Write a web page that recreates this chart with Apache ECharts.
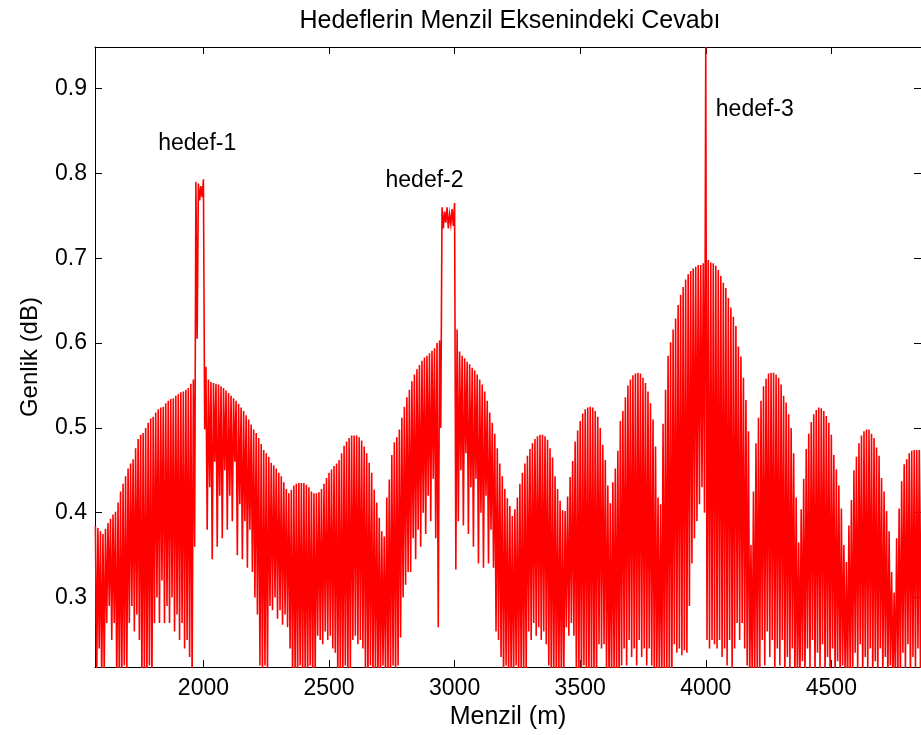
<!DOCTYPE html>
<html>
<head>
<meta charset="utf-8">
<script src="https://cdn.jsdelivr.net/npm/echarts@6/dist/echarts.min.js"></script>
<style>
  html, body { margin: 0; padding: 0; background: #ffffff; }
  #chart { width: 921px; height: 735px; }
</style>
</head>
<body>
<div id="chart"></div>
<script>
// Range profile of the three targets: every 10 m one local peak and one local trough
// of the matched-filter output, amplitudes in thousandths.
const peakStartM = 1570;
const troughStartM = 1575;
const stepM = 10;

const peaks = [
  384,382,378,375,381,388,393,398,401,412,
  425,434,443,452,458,463,476,487,492,494,
  500,506,511,513,518,522,524,525,529,532,
  534,535,538,540,542,543,545,547,552,557,
  790,788,785,793,572,557,554,553,552,551,
  549,547,544,541,538,535,532,528,524,520,
  515,510,504,498,494,488,481,474,470,466,
  459,456,452,447,443,436,428,423,427,432,
  434,435,435,435,433,430,425,423,423,424,
  428,434,441,447,451,455,458,462,470,479,
  484,488,491,491,491,489,485,478,470,459,
  447,427,412,394,378,372,418,439,468,483,
  489,498,512,525,536,545,555,563,569,574,
  579,583,585,588,591,594,600,603,760,755,
  760,752,758,765,616,590,585,582,578,575,
  571,568,563,557,551,543,532,518,506,493,
  476,458,443,428,417,408,396,404,418,434,
  447,458,467,475,482,487,490,492,492,490,
  486,476,465,443,428,414,403,402,419,442,
  461,484,497,508,517,522,524,525,524,520,
  513,500,480,462,432,411,436,452,473,508,
  520,536,550,557,562,564,565,564,559,553,
  543,529,510,478,418,410,505,545,585,601,
  616,629,645,657,666,675,681,685,688,690,
  692,692,694,949,698,695,694,691,686,679,
  671,665,653,642,631,620,596,584,559,533,
  496,362,425,482,512,532,549,558,564,565,
  565,563,559,551,538,530,516,500,470,418,
  365,404,440,475,493,507,516,521,524,523,
  520,514,506,492,468,451,432,405,362,342,
  385,415,450,466,482,491,496,498,498,493,
  488,477,467,441,425,402,378,330,306,370,
  405,437,457,463,470,473,474,474,474,474
];

const troughs = [
  200,240,200,210,270,290,250,270,200,210,
  200,220,210,270,290,260,280,250,200,210,
  200,220,200,270,300,270,320,270,290,270,
  300,260,280,250,270,240,250,230,200,360,
  605,768,772,498,380,430,345,460,360,420,
  370,450,380,420,390,460,350,410,345,390,
  335,380,330,300,280,220,200,220,210,290,
  285,300,275,285,268,280,265,240,200,210,
  200,220,200,210,200,220,200,210,255,250,
  245,260,250,255,240,235,200,210,200,220,
  200,210,250,255,245,250,240,210,200,220,
  200,210,200,200,220,200,210,200,220,200,
  220,253,300,315,330,330,370,345,380,360,
  400,375,420,390,440,370,265,500,735,742,
  735,740,738,333,390,450,385,470,375,430,
  360,440,340,400,335,420,340,380,335,260,
  250,230,200,220,200,210,200,220,200,210,
  200,210,260,250,270,255,265,250,260,245,
  220,200,210,200,200,200,210,265,255,270,
  255,200,210,200,220,200,200,210,200,200,
  245,240,245,210,200,200,210,200,200,220,
  240,220,250,230,240,220,250,230,240,220,
  240,220,200,200,210,200,200,210,200,200,
  245,235,240,232,238,235,290,340,370,390,
  410,430,400,250,240,250,245,240,250,230,
  240,220,250,210,240,270,250,270,240,220,
  200,200,200,210,200,250,220,260,230,250,
  210,240,220,250,200,230,215,240,200,200,
  200,225,200,240,215,250,200,235,210,245,
  200,230,205,240,200,225,200,220,200,200,
  215,200,235,210,245,200,230,215,240,200,
  225,200,240,205,230,200,220,200,200,210,
  200,235,210,245,200,230,215,240,200,225
];

const xTicks = [2000, 2500, 3000, 3500, 4000, 4500];
const yTicks = [0.3, 0.4, 0.5, 0.6, 0.7, 0.8, 0.9];

const targetNames = ['hedef-1', 'hedef-2', 'hedef-3'];
const targetRangeM = [1820, 2725, 4040];
const targetLevel = [0.835, 0.792, 0.875];

// Interleave peaks and troughs into one polyline
const profile = [];
for (let i = 0; i < peaks.length; i++) {
  profile.push([peakStartM + i * stepM, peaks[i] / 1000]);
  profile.push([troughStartM + i * stepM, troughs[i] / 1000]);
}

const labelData = targetNames.map((n, i) => ({ name: n, value: [targetRangeM[i], targetLevel[i]] }));

const FONT = 'Liberation Sans, Arial, Helvetica, sans-serif';
const X_MIN = 1568.3, X_MAX = 4857;
const Y_MIN = 0.218, Y_MAX = 0.949;

const chart = echarts.init(document.getElementById('chart'), null, { renderer: 'canvas' });
chart.setOption({
  animation: false,
  backgroundColor: '#ffffff',
  title: {
    text: 'Hedeflerin Menzil Eksenindeki Cevabı',
    left: 505,
    top: 4,
    textAlign: 'center',
    textStyle: { fontFamily: FONT, fontSize: 25, fontWeight: 'normal', color: '#000' }
  },
  grid: { left: 95, top: 47, right: -2, height: 621, containLabel: false },
  xAxis: [
    {
      type: 'value', position: 'bottom', min: X_MIN, max: X_MAX,
      name: 'Menzil (m)', nameLocation: 'middle', nameGap: 33,
      nameTextStyle: { fontFamily: FONT, fontSize: 25, color: '#000' },
      axisLine: { show: true, onZero: false, lineStyle: { color: '#000', width: 1 } },
      axisTick: { show: true, inside: true, length: 7, customValues: xTicks, lineStyle: { color: '#000' } },
      axisLabel: {
        show: true, customValues: xTicks, margin: 10, fontFamily: FONT, fontSize: 23, color: '#000',
        formatter: v => String(Math.round(v))
      },
      splitLine: { show: false }
    },
    {
      type: 'value', position: 'top', min: X_MIN, max: X_MAX,
      axisLine: { show: true, onZero: false, lineStyle: { color: '#000', width: 1 } },
      axisTick: { show: true, inside: true, length: 7, customValues: xTicks, lineStyle: { color: '#000' } },
      axisLabel: { show: false },
      splitLine: { show: false }
    }
  ],
  yAxis: [
    {
      type: 'value', position: 'left', min: Y_MIN, max: Y_MAX,
      name: 'Genlik (dB)', nameLocation: 'middle', nameGap: 53, nameRotate: 90,
      nameTextStyle: { fontFamily: FONT, fontSize: 24, color: '#000' },
      axisLine: { show: true, onZero: false, lineStyle: { color: '#000', width: 1 } },
      axisTick: { show: true, inside: true, length: 7, customValues: yTicks, lineStyle: { color: '#000' } },
      axisLabel: {
        show: true, customValues: yTicks, margin: 8, fontFamily: FONT, fontSize: 23, color: '#000',
        formatter: v => v.toFixed(1)
      },
      splitLine: { show: false }
    },
    {
      type: 'value', position: 'right', min: Y_MIN, max: Y_MAX,
      axisLine: { show: true, onZero: false, lineStyle: { color: '#000', width: 1 } },
      axisTick: { show: true, inside: true, length: 7, customValues: yTicks, lineStyle: { color: '#000' } },
      axisLabel: { show: false },
      splitLine: { show: false }
    }
  ],
  series: [
    {
      type: 'line',
      xAxisIndex: 0, yAxisIndex: 0,
      data: profile,
      showSymbol: false,
      symbol: 'none',
      clip: true,
      sampling: null,
      lineStyle: { color: '#ff0000', width: 1.6, join: 'miter' },
      emphasis: { disabled: true },
      z: 2
    },
    {
      type: 'scatter',
      xAxisIndex: 0, yAxisIndex: 0,
      data: labelData,
      symbolSize: 0,
      itemStyle: { opacity: 1 },
      label: {
        show: true, position: 'right', distance: 0,
        formatter: p => p.name,
        fontFamily: FONT, fontSize: 23, color: '#000', opacity: 1
      },
      emphasis: { disabled: true },
      z: 3
    }
  ]
});
</script>
</body>
</html>
